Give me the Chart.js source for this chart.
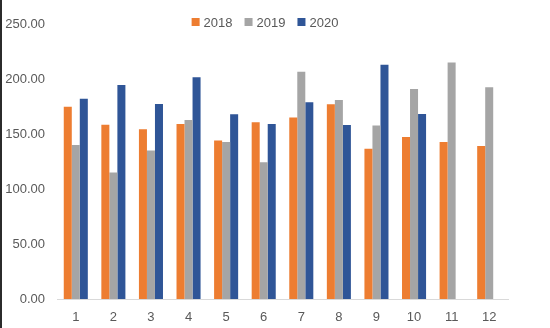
<!DOCTYPE html>
<html>
<head>
<meta charset="utf-8">
<script src="https://cdn.jsdelivr.net/npm/chart.js@4"></script>
<style>
  html, body { margin: 0; padding: 0; background: #fff; }
  #wrap { position: relative; width: 550px; height: 328px; }
  #edge { position: absolute; left: 0; top: 0; width: 2px; height: 328px; background: #2b2b2b; }
  canvas { position: absolute; left: 0; top: 0; }
</style>
</head>
<body>
<div id="wrap">
  <canvas id="c" width="550" height="328"></canvas>
  <div id="edge"></div>
</div>
<script>
const categories = ['1','2','3','4','5','6','7','8','9','10','11','12'];
const seriesNames = ['2018','2019','2020'];
const values2018 = [174.8, 158.5, 154.3, 159.2, 144.0, 160.6, 165.0, 177.0, 136.5, 147.2, 142.8, 139.2];
const values2019 = [140.0, 115.0, 135.0, 162.8, 142.7, 124.4, 206.5, 181.0, 157.8, 191.0, 215.0, 192.4];
const values2020 = [182.0, 194.5, 177.2, 201.6, 168.0, 159.2, 178.8, 158.2, 213.0, 168.2, null, null];
const yTicks = [0, 50, 100, 150, 200, 250];
const colors = ['#ED7D31', '#A5A5A5', '#2F5597'];

const FONT = "'Liberation Sans', Arial, sans-serif";
const TXT = '#595959';

const legendPlugin = {
  id: 'customLegend',
  afterDraw(chart) {
    const ctx = chart.ctx;
    ctx.save();
    ctx.font = '13px ' + FONT;
    ctx.textBaseline = 'middle';
    const box = 8, gap = 4, spacing = 12;
    const items = chart.data.datasets.map(d => ({ label: d.label, color: d.backgroundColor, w: ctx.measureText(d.label).width }));
    let total = 0;
    items.forEach((it, i) => { total += box + gap + it.w + (i < items.length - 1 ? spacing : 0); });
    let x = 265 - total / 2;
    const cy = 22;
    items.forEach(it => {
      ctx.fillStyle = it.color;
      ctx.fillRect(x, cy - box / 2, box, box);
      x += box + gap;
      ctx.fillStyle = TXT;
      ctx.textAlign = 'left';
      ctx.fillText(it.label, x, cy + 1);
      x += it.w + spacing;
    });
    ctx.restore();
  }
};

new Chart(document.getElementById('c'), {
  type: 'bar',
  data: {
    labels: categories,
    datasets: [
      { label: seriesNames[0], data: values2018, backgroundColor: colors[0] },
      { label: seriesNames[1], data: values2019, backgroundColor: colors[1] },
      { label: seriesNames[2], data: values2020, backgroundColor: colors[2] }
    ]
  },
  options: {
    responsive: false,
    animation: false,
    devicePixelRatio: 1,
    layout: { padding: { top: 24, right: 42, left: 0, bottom: 0 } },
    datasets: { bar: { barPercentage: 1.0, categoryPercentage: 0.64 } },
    plugins: { legend: { display: false }, tooltip: { enabled: false } },
    scales: {
      x: {
        grid: { display: false, drawTicks: false },
        border: { display: true, color: '#D9D9D9', width: 1 },
        ticks: { color: TXT, font: { family: FONT, size: 13 }, padding: 11 },
        afterFit(s) { s.height = 29; }
      },
      y: {
        min: 0, max: 250,
        afterBuildTicks(s) { s.ticks = yTicks.map(v => ({ value: v })); },
        grid: { display: false, drawTicks: false },
        border: { display: false },
        ticks: { color: TXT, font: { family: FONT, size: 13 }, padding: 12, callback: v => Number(v).toFixed(2) },
        afterFit(s) { s.width = 57; }
      }
    }
  },
  plugins: [legendPlugin]
});
</script>
</body>
</html>
